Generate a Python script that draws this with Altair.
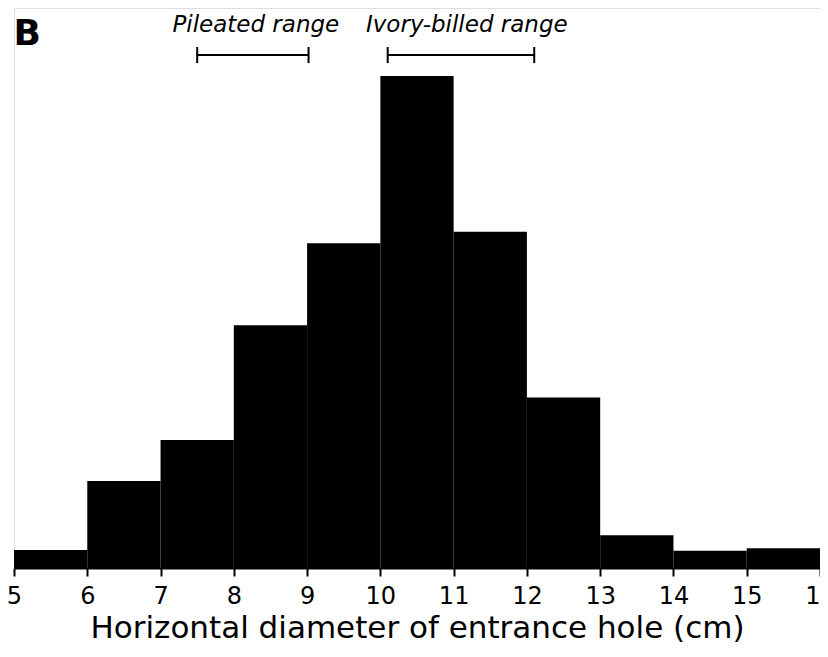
import altair as alt
import pandas as pd

bin_start = [5, 6, 7, 8, 9, 10, 11, 12, 13, 14, 15]
bin_end = [6, 7, 8, 9, 10, 11, 12, 13, 14, 15, 16]
heights = [1.1, 5.3, 7.8, 14.8, 19.8, 30.0, 20.5, 10.4, 2.0, 1.05, 1.2]

range_names = ["Pileated range", "Ivory-billed range"]
range_lo = [7.5, 10.1]
range_hi = [9.02, 12.1]
range_label_x = [8.3, 11.18]
range_y = 31.28
cap_half = 0.49
label_y = 32.68

bars = pd.DataFrame({"x": bin_start, "x2": bin_end, "h": heights})
rng = pd.DataFrame({
    "name": range_names, "lo": range_lo, "hi": range_hi, "lx": range_label_x,
    "y": [range_y] * 2, "ty": [label_y] * 2,
})
caps = pd.DataFrame({
    "x": range_lo + range_hi,
    "ylo": [range_y - cap_half] * 4, "yhi": [range_y + cap_half] * 4,
})
panel = pd.DataFrame({"t": ["B"], "x": [5.18], "y": [31.9]})

FONT = "DejaVu Sans"
xscale = alt.Scale(domain=[5, 16], nice=False, zero=False)
yscale = alt.Scale(domain=[0, 34.15], nice=False)

xax = alt.Axis(values=list(range(5, 17)), format="d",
               title="Horizontal diameter of entrance hole (cm)",
               grid=False, domainColor="black", tickColor="black", tickSize=8, tickWidth=2,
               domainWidth=2, labelFont=FONT, labelFontSize=24, labelColor="black",
               labelPadding=8, titleFont=FONT, titleFontSize=31,
               titleFontWeight="normal", titleColor="black", titlePadding=5,
               labelOverlap=False, labelFlush=False)

base_bar = alt.Chart(bars).mark_bar(color="black").encode(
    x=alt.X("x:Q", scale=xscale, axis=xax),
    x2="x2:Q",
    y=alt.Y("h:Q", scale=yscale, axis=None),
    y2=alt.datum(0),
)

hline = alt.Chart(rng).mark_rule(color="black", strokeWidth=2).encode(
    x=alt.X("lo:Q", scale=xscale), x2="hi:Q", y=alt.Y("y:Q", scale=yscale))
caprules = alt.Chart(caps).mark_rule(color="black", strokeWidth=2).encode(
    x=alt.X("x:Q", scale=xscale), y=alt.Y("ylo:Q", scale=yscale), y2="yhi:Q")
labels = alt.Chart(rng).mark_text(font=FONT, fontSize=23, fontStyle="italic",
                                  color="black", baseline="alphabetic", align="center").encode(
    x=alt.X("lx:Q", scale=xscale), y=alt.Y("ty:Q", scale=yscale), text="name:N")
ptxt = alt.Chart(panel).mark_text(font=FONT, fontSize=36, fontWeight="bold",
                                  color="black", baseline="alphabetic", align="center").encode(
    x=alt.X("x:Q", scale=xscale), y=alt.Y("y:Q", scale=yscale), text="t:N")

chart = alt.layer(base_bar, hline, caprules, labels, ptxt).properties(
    width=806, height=560,
    autosize=alt.AutoSizeParams(type="none"),
    padding={"left": 6, "top": 0, "right": 0, "bottom": 76},
).configure_view(stroke="transparent").configure(background="white")

chart.save("out.html", embed_options={"renderer": "svg", "actions": False})
